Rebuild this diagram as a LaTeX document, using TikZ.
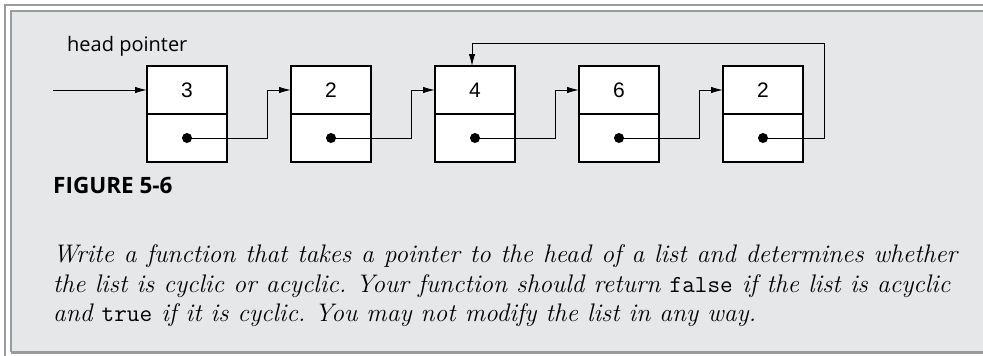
\documentclass[tikz,border=0pt]{standalone}
\usepackage{fontspec}
\usetikzlibrary{arrows.meta,calc}
\newfontfamily\labelfont{Open Sans}
\newfontfamily\numfont{Liberation Sans}
\definecolor{panel}{HTML}{E6E7E9}
\definecolor{frame}{HTML}{9A9B9D}
\newcommand{\codeword}[1]{{\upshape\ttfamily\fontsize{24.5}{24.5}\selectfont #1}}
\newcommand{\fullline}[2]{\hbox to #1{\spaceskip=.36em plus 1fil\relax\xspaceskip=.36em plus 1fil\relax #2}}
\begin{document}
\begin{tikzpicture}[x=1pt,y=-1pt,
  cell/.style={draw=black,line width=1.2pt,fill=white,minimum width=80pt,minimum height=48pt,inner sep=0pt,outer sep=0pt,font=\numfont\fontsize{21}{21}\selectfont},
  link/.style={line width=1pt,-{Latex[length=12pt,width=6.5pt]}},
  dotmark/.style={circle,fill=black,minimum size=10pt,inner sep=0pt},
  qline/.style={anchor=base west,inner sep=0pt,font=\itshape\fontsize{25.4}{25.4}\selectfont}]
\useasboundingbox (0,0) rectangle (983,356);
\fill[white] (0,0) rectangle (983,356);
\fill[panel] (11,11) rectangle (990,352);
\draw[frame,line width=2pt] (5,362) -- (5,5) -- (990,5);
\draw[frame,line width=2.5pt] (11,352) -- (11,11) -- (990,11);
\draw[frame,line width=2.5pt] (11,352.5) -- (990,352.5);
% boxes
\foreach \i/\v [count=\k from 0] in {1/3,2/2,3/4,4/6,5/2}{
  \node[cell] (t\i) at (187+144*\k,90) {\v};
  \node[cell] (b\i) at (187+144*\k,138) {};
  \node[dotmark] (d\i) at (b\i.center) {};
}
% head pointer
\node[anchor=base west,inner sep=0pt,font=\labelfont\fontsize{20}{20}\selectfont] (hplabel) at (67,51.5) {head pointer};
\coordinate (hp) at (53,90);
\draw[link] (hp) -- (t1.west);
% links
\foreach \a/\b in {1/2,2/3,3/4,4/5}{
  \draw[link] (d\a.center) -| ([xshift=-24pt]t\b.west) -- (t\b.west);
}
% cycle
\coordinate (cyc) at (824,43);
\draw[link] (d5.center) -| (cyc) -| ([xshift=-3pt]t3.north);
% caption
\node[anchor=base west,inner sep=0pt,font=\labelfont\bfseries\fontsize{22.5}{22.5}\selectfont] (fig) at (53,193) {FIGURE 5-6};
% question
\node[qline] (q1) at (53,262) {\fullline{904pt}{Write a function that takes a pointer to the head of a list and determines whether}};
\node[qline] (q2) at (53,292) {\fullline{897pt}{the list is cyclic or acyclic. Your function should return \codeword{false} if the list is acyclic}};
\node[qline] (q3) at (53,321) {\fullline{702pt}{and \codeword{true} if it is cyclic. You may not modify the list in any way.}};
\end{tikzpicture}
\end{document}
